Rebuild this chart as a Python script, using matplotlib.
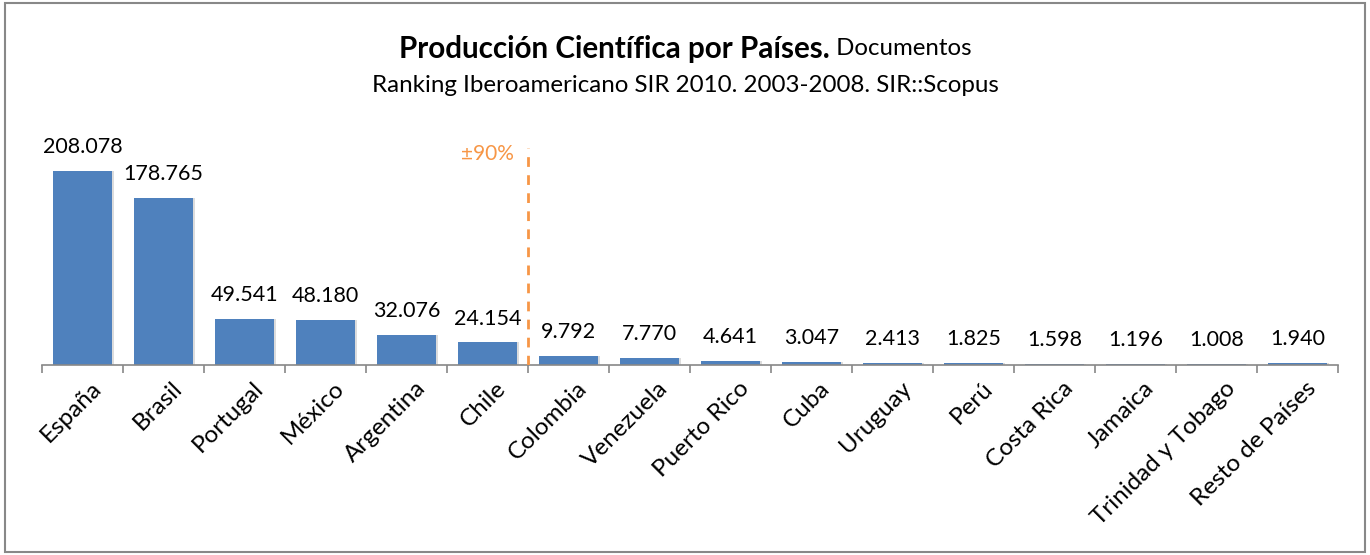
import matplotlib.pyplot as plt
import numpy as np
from matplotlib.patches import Rectangle
from matplotlib.transforms import ScaledTranslation

plt.rcParams['font.family'] = ['Lato', 'DejaVu Sans']

paises = ["España", "Brasil", "Portugal", "México", "Argentina", "Chile", "Colombia",
          "Venezuela", "Puerto Rico", "Cuba", "Uruguay", "Perú", "Costa Rica",
          "Jamaica", "Trinidad y Tobago", "Resto de Países"]
documentos = [208078, 178765, 49541, 48180, 32076, 24154, 9792, 7770, 4641,
              3047, 2413, 1825, 1598, 1196, 1008, 1940]
etiquetas = ["208.078", "178.765", "49.541", "48.180", "32.076", "24.154", "9.792",
             "7.770", "4.641", "3.047", "2.413", "1.825", "1.598", "1.196", "1.008", "1.940"]
corte_90 = 5.5  # between Chile and Colombia

fig = plt.figure(figsize=(13.7, 5.55), dpi=100)
ax = fig.add_axes([0.0307, 0.3423, 0.946, 0.4235])

x = np.arange(len(paises))
# light shadow behind bars
ax.bar(x + 0.03, documentos, width=0.72, color='#dcdcdc', zorder=1)
ax.bar(x, documentos, width=0.72, color='#4F81BD', zorder=2)

for xi, v, lab in zip(x, documentos, etiquetas):
    ax.annotate(lab, (xi, v), xytext=(0, 10), textcoords='offset points',
                ha='center', va='bottom', fontsize=15.5, color='black')

ax.set_xlim(-0.5, len(paises) - 0.5)
ax.set_ylim(0, 252000)

ax.axvline(corte_90, ymin=0, ymax=232700 / 252000, color='#F79646', lw=2,
           ls=(0, (3.5, 3)), zorder=3)
ax.text(corte_90 - 0.17, 226000, "±90%", color='#F79646', fontsize=15,
        ha='right', va='center')

for s in ['top', 'right', 'left']:
    ax.spines[s].set_visible(False)
ax.spines['bottom'].set_color('#888888')
ax.spines['bottom'].set_linewidth(1.2)
ax.set_yticks([])

ax.set_xticks(x)
ax.set_xticklabels(paises, rotation=45, ha='right', rotation_mode='anchor', fontsize=17.5)
ax.tick_params(axis='x', which='major', length=0, pad=9)
ax.set_xticks(np.arange(-0.5, len(paises)), minor=True)
ax.tick_params(axis='x', which='minor', length=6, color='#888888', width=1.2)
shift = ScaledTranslation(0.08, 0, fig.dpi_scale_trans)
for lab in ax.get_xticklabels():
    lab.set_transform(lab.get_transform() + shift)

fig.text(0.606, 0.912, "Producción Científica por Países.", fontsize=21.3,
         fontweight='bold', ha='right', va='center')
fig.text(0.606, 0.912, " Documentos", fontsize=17.3, ha='left', va='center')
fig.text(0.5, 0.846, "Ranking Iberoamericano SIR 2010. 2003-2008. SIR::Scopus",
         fontsize=17.4, ha='center', va='center')

fig.patches.append(Rectangle((0.004, 0.006), 0.992, 0.988, transform=fig.transFigure,
                             fill=False, edgecolor='#888888', lw=1.5))

fig.savefig("out.png", dpi=100)
